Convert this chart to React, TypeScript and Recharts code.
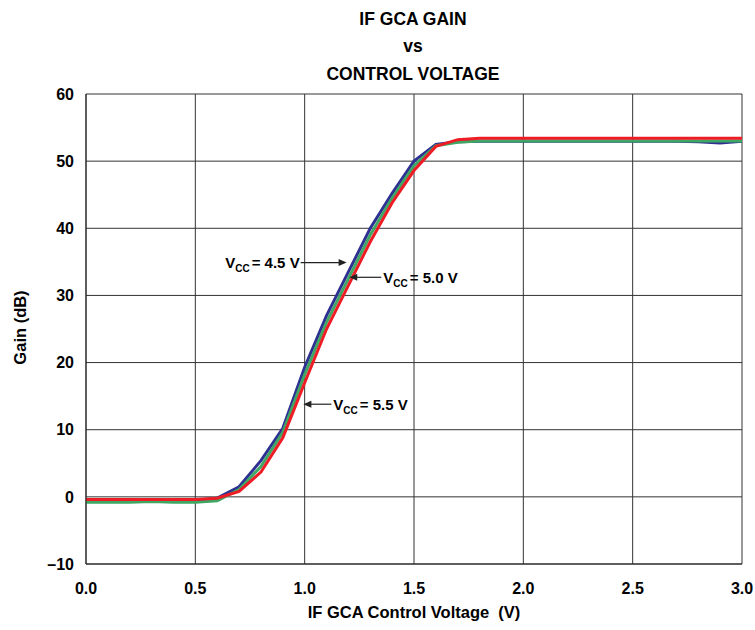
import { LineChart, Line, XAxis, YAxis, CartesianGrid, ReferenceDot } from "recharts";

const volts = [
  0, 0.1, 0.2, 0.3, 0.4, 0.5, 0.6, 0.7, 0.8, 0.9, 1.0, 1.1, 1.2, 1.3, 1.4, 1.5,
  1.6, 1.7, 1.8, 1.9, 2.0, 2.1, 2.2, 2.3, 2.4, 2.5, 2.6, 2.7, 2.8, 2.9, 3.0,
];
// Vcc = 4.5 V
const gain45 = [
  -0.5, -0.5, -0.5, -0.4, -0.5, -0.5, -0.2, 1.5, 5.4, 10.2, 19.3, 27, 33.5, 40, 45.2, 50,
  52.5, 52.9, 52.95, 52.95, 52.95, 52.95, 52.95, 52.95, 52.95, 52.95, 52.95, 52.95, 52.9, 52.7, 52.95,
];
// Vcc = 5.0 V
const gain50 = [
  -0.8, -0.8, -0.8, -0.7, -0.8, -0.8, -0.6, 1.1, 4.5, 9.6, 18.2, 26, 32.5, 39, 44.5, 49.3,
  52.3, 52.8, 53, 53, 53, 53, 53, 53, 53, 53, 53, 53, 53, 53, 53,
];
// Vcc = 5.5 V
const gain55 = [
  -0.4, -0.4, -0.4, -0.4, -0.4, -0.4, -0.2, 0.8, 3.7, 8.8, 17, 25, 31.5, 38, 43.8, 48.6,
  52.2, 53.2, 53.4, 53.4, 53.4, 53.4, 53.4, 53.4, 53.4, 53.4, 53.4, 53.4, 53.4, 53.4, 53.4,
];

const xTicks = [0, 0.5, 1.0, 1.5, 2.0, 2.5, 3.0];
const yTicks = [-10, 0, 10, 20, 30, 40, 50, 60];

const notes = [
  { x: 1.192, y: 34.9, label: "4.5 V", side: "left", len: 46 },
  { x: 1.204, y: 32.7, label: "5.0 V", side: "right", len: 32 },
  { x: 0.994, y: 13.8, label: "5.5 V", side: "right", len: 28 },
];

const FONT = "'Liberation Sans', Arial, Helvetica, sans-serif";

const data = volts.map((v, i) => ({ v, a: gain45[i], b: gain50[i], c: gain55[i] }));

function Note({ cx, cy, label, side, len }: any) {
  if (cx == null || cy == null) return null;
  const left = side === "left";
  const tipX = cx;
  const tailX = left ? cx - len : cx + len;
  const head = left
    ? `${tipX},${cy} ${tipX - 8},${cy - 3.5} ${tipX - 8},${cy + 3.5}`
    : `${tipX},${cy} ${tipX + 8},${cy - 3.5} ${tipX + 8},${cy + 3.5}`;
  return (
    <g>
      <line x1={tailX} y1={cy} x2={left ? tipX - 6 : tipX + 6} y2={cy} stroke="#222" strokeWidth={1.2} />
      <polygon points={head} fill="#222" />
      <text
        x={left ? tailX - 1 : tailX + 2}
        y={cy}
        dy="0.36em"
        textAnchor={left ? "end" : "start"}
        fontFamily={FONT}
        fontWeight="bold"
        fontSize={15}
        fill="#000"
      >
        <tspan>V</tspan>
        <tspan fontSize={10} dy={4}>CC</tspan>
        <tspan dy={-4} dx={2}>= {label}</tspan>
      </text>
    </g>
  );
}

const tickStyle = { fill: "#000", fontSize: 16, fontWeight: "bold", fontFamily: FONT };

const titleStyle = {
  position: "absolute" as const,
  left: 213,
  width: 400,
  textAlign: "center" as const,
  fontSize: 17.5,
  lineHeight: "18px",
  fontWeight: "bold" as const,
};

export default function App() {
  return (
    <div style={{ position: "absolute", left: 0, top: 0, width: 755, height: 630, background: "#fff", fontFamily: FONT }}>
      <div style={{ ...titleStyle, top: 10 }}>IF GCA GAIN</div>
      <div style={{ ...titleStyle, top: 37 }}>vs</div>
      <div style={{ ...titleStyle, top: 65 }}>CONTROL VOLTAGE</div>

      <LineChart width={755} height={630} data={data} margin={{ top: 94, right: 13, bottom: 36, left: 10 }}>
        <CartesianGrid stroke="#333" strokeWidth={1} />
        <XAxis
          type="number"
          dataKey="v"
          domain={[0, 3]}
          ticks={xTicks}
          tickFormatter={(v: number) => v.toFixed(1)}
          tickLine={false}
          tickSize={0}
          tickMargin={19}
          height={30}
          axisLine={{ stroke: "#222" }}
          tick={tickStyle}
          interval={0}
        />
        <YAxis
          type="number"
          domain={[-10, 60]}
          ticks={yTicks}
          tickFormatter={(v: number) => (v < 0 ? "\u2013" + Math.abs(v) : String(v))}
          tickLine={false}
          tickSize={0}
          tickMargin={12}
          width={76}
          axisLine={{ stroke: "#222" }}
          tick={tickStyle}
          interval={0}
        />
        <Line type="linear" dataKey="a" stroke="#2e3192" strokeWidth={3} dot={false} isAnimationActive={false} />
        <Line type="linear" dataKey="b" stroke="#3fa663" strokeWidth={3} dot={false} isAnimationActive={false} />
        <Line type="linear" dataKey="c" stroke="#ee1c25" strokeWidth={3} dot={false} isAnimationActive={false} />
        {notes.map((n) => (
          <ReferenceDot
            key={n.label}
            x={n.x}
            y={n.y}
            r={0}
            shape={(p: any) => <Note {...p} label={n.label} side={n.side} len={n.len} />}
          />
        ))}
      </LineChart>

      <div style={{ position: "absolute", left: 214, width: 400, top: 604, textAlign: "center", fontSize: 16.5, lineHeight: "17px", fontWeight: "bold", whiteSpace: "pre" }}>
        {"IF GCA Control Voltage  (V)"}
      </div>
      <div
        style={{
          position: "absolute",
          left: 20 - 100,
          top: 327 - 8.5,
          width: 200,
          height: 17,
          textAlign: "center",
          fontSize: 16.5,
          lineHeight: "17px",
          fontWeight: "bold",
          transform: "rotate(-90deg)",
        }}
      >
        Gain (dB)
      </div>
    </div>
  );
}
